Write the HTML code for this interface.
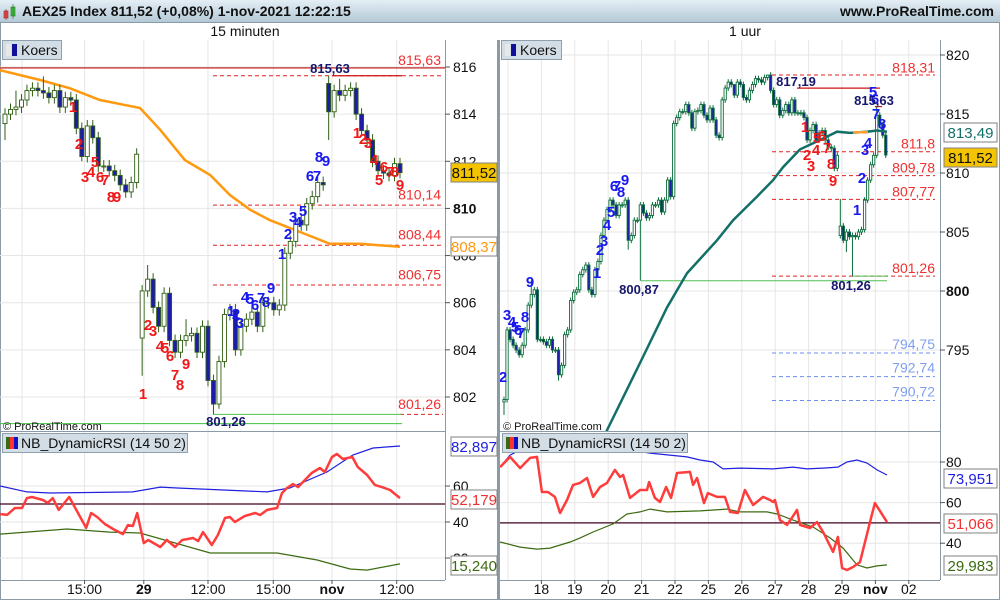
<!DOCTYPE html>
<html><head><meta charset="utf-8">
<style>
html,body{margin:0;padding:0;background:#fff;}
svg{display:block;font-family:"Liberation Sans",sans-serif;}
</style></head>
<body>
<svg id="chart" width="1000" height="600" viewBox="0 0 1000 600" xmlns="http://www.w3.org/2000/svg">
<defs>
<linearGradient id="tb" x1="0" y1="0" x2="0" y2="1"><stop offset="0" stop-color="#e4eef5"/><stop offset="1" stop-color="#b4c9d6"/></linearGradient>
<clipPath id="clipLP"><rect x="0" y="40" width="445" height="391"/></clipPath>
<clipPath id="clipRP"><rect x="500" y="40" width="440" height="391"/></clipPath>
<clipPath id="clipLR"><rect x="0" y="432" width="445" height="148"/></clipPath>
<clipPath id="clipRR"><rect x="500" y="432" width="440" height="148"/></clipPath>
</defs>
<rect x="0" y="0" width="1000" height="600" fill="#fff"/>
<rect x="0" y="0" width="1000" height="22" fill="url(#tb)"/>
<line x1="0" y1="22.5" x2="1000" y2="22.5" stroke="#7f98a8"/>
<g>
<rect x="4" y="11" width="4" height="7" fill="#e05050" stroke="#a02020" stroke-width="0.6"/>
<line x1="6" y1="9" x2="6" y2="20" stroke="#a02020" stroke-width="0.6"/>
<rect x="11" y="7" width="4" height="9" fill="#40c040" stroke="#207020" stroke-width="0.6"/>
<line x1="13" y1="4" x2="13" y2="19" stroke="#207020" stroke-width="0.6"/>
</g>
<text x="22" y="16" font-size="14" font-weight="bold" fill="#111">AEX25 Index 811,52 (+0,08%) 1-nov-2021 12:22:15</text>
<text x="994" y="16" font-size="14" font-weight="bold" fill="#111" text-anchor="end">www.ProRealTime.com</text>
<text x="245" y="36" font-size="14" fill="#111" text-anchor="middle">15 minuten</text>
<text x="745" y="36" font-size="14" fill="#111" text-anchor="middle">1 uur</text>
<rect x="0.5" y="22.5" width="999" height="577" fill="none" stroke="#8a9aa6"/>
<line x1="498.5" y1="40" x2="498.5" y2="600" stroke="#8a9aa6" stroke-width="3"/>
<g id="L"></g>
<g id="R"></g>
</svg>
<script>
// ---------- LEFT (15 min) data ----------
const lClose = [814.0,814.2,814.3,814.6,815.0,815.1,815.0,814.9,814.7,815.0,814.3,814.7,814.6,813.4,812.2,813.5,813.0,811.8,811.8,811.6,811.4,811.0,810.7,811.1,812.3,
806.5,807.0,805.8,805.0,806.4,804.4,803.9,804.4,804.6,804.7,803.9,805.0,802.7,801.7,803.5,805.5,805.7,804.0,805.0,805.3,805.6,805.0,806.0,806.0,805.7,805.9,808.1,808.6,809.5,809.3,810.2,810.5,811.1,811.0,
814.1,815.0,814.8,815.0,815.1,814.0,813.3,812.9,812.0,811.6,811.5,811.4,811.9,811.52];
const lGapOpen = {0:813.6, 25:804.5, 59:815.3};
const lHighOver = {26:807.6, 7:815.6, 2:815.0, 59:815.63, 61:815.5, 33:805.3};
const lLowOver = {0:812.9, 25:802.9, 38:801.26, 59:812.9, 39:801.5, 14:812.0};
const lMaBar = [-1,6.4,11.8,17.3,24.6,28.3,32.8,37.4,41,44.7,48.3,53.8,59.2,64.7,72];
const lMaVal = [815.87,815.45,815.1,814.6,814.26,813.33,812.05,811.42,810.57,809.94,809.5,809.0,808.5,808.5,808.37];
const lTicks = [816,814,812,810,808,806,804,802];
const lRsiBar = [-0.9,0.4,1.8,3.1,4,4.9,6.9,7.8,8.7,9.8,11.7,14.8,15.7,16.8,18.2,19.7,21.5,22.4,23.3,24.1,25.3,26.1,28.3,29.5,31,32.3,34.3,35.2,36.1,37.7,38.8,40.1,41,41.9,43.7,45.6,46.5,47.8,49.6,50.5,51.4,52.5,53.4,55,55.9,57.4,58.3,59.6,60.5,61.6,63.3,64.3,66,67.4,68.7,70.2,72];
const lRsiVal = [44.4,44,47.8,47.8,53.3,53.9,52.2,50.6,53.3,46.7,53.9,36.7,45,42.8,38.9,36.1,33.3,38.3,37.8,45,28.3,30,26.1,30,26.1,30,31.1,29.4,34.4,27.2,32.8,42.2,42.8,40,43.3,45,43.9,46.7,47.8,56.1,58.9,61.1,59.4,64.4,67.2,70,67.8,76.1,77.8,75,76.1,70.6,66.1,60.6,59.4,57.8,53.3];
const lUpBar = [-0.9,4,8.2,23.3,28.3,31.4,47.8,51.9,58.7,63.4,67.1,72];
const lUpVal = [60,56.7,56.1,56.7,59.4,58.9,56.7,58.9,67.8,77.2,81.1,82.2];
const lDnBar = [-0.9,11.3,19.1,24.6,37.4,49.6,56.9,62.9,66,72];
const lDnVal = [33.3,36.1,34.4,33.9,22.8,22.8,18.9,13.9,13.3,16.7];
const lTimeBar = [14.5,25.3,37,48.9,59.6,71.4];
const lTimeLbl = ["15:00","29","12:00","15:00","nov","12:00"];
const lTimeBold = [false,true,false,false,true,false];
const lGridBar = [3.1];

// ---------- RIGHT (1 uur) data ----------
const rClose = [790.8,796.7,795.9,795.4,795.0,794.6,795.4,796.7,798.8,799.7,800.1,
795.9,795.9,795.7,795.4,795.9,795.0,795.0,792.9,793.7,796.3,
796.7,799.2,799.9,800.1,801.4,801.8,802.2,800.1,799.7,801.8,
802.5,804.7,806.0,806.9,807.7,807.3,806.4,807.3,807.3,807.7,
804.3,804.7,806.0,806.0,807.3,806.6,806.2,806.4,807.3,807.3,
807.7,806.7,807.7,809.4,
808.0,814.2,814.7,815.2,815.2,815.8,815.1,813.8,815.2,815.3,
815.8,814.9,814.5,815.5,814.5,813.2,813.0,816.2,817.2,817.7,
817.5,816.6,817.7,817.5,816.4,816.2,817.0,817.5,818.0,817.9,
817.7,818.1,818.3,817.0,815.8,816.2,814.9,815.3,815.8,815.1,
816.2,815.1,815.1,815.1,814.7,812.8,813.6,814.1,812.8,813.4,
813.6,812.8,812.2,812.1,810.4,811.5,
805.5,804.3,805.0,804.6,804.7,804.6,805.0,805.2,807.7,809.4,810.7,811.5,
814.9,814.1,813.2,811.52];
const rGapOpen = {0:790.6, 111:804.7};
const rHighOver = {111:807.8, 87:818.31, 76:817.19, 123:815.63, 9:800.9};
const rLowOver = {0:789.5, 45:800.87, 115:801.26, 18:792.4, 41:803.5, 113:803.3};
const rMaBar = [32,34,44.9,53.8,60.4,70.3,75.6,83.5,88.8,92.1,97.7,104.3,109.9,114.2,119.8,123.1,126.4];
const rMaVal = [786.8,788.2,793.9,798.6,801.5,804.3,806.0,808.0,809.4,810.5,812.0,812.8,813.5,813.4,813.5,813.6,813.5];
const rTicks = [820,815,810,805,800,795];
const rRsiBar = [-1.3,2,5.3,8.6,10.9,12.5,14.5,16.8,18.5,20.8,22.8,25.1,27.4,29.4,31.7,34,36.6,38.3,39.3,41.6,44.9,47.2,47.9,49.8,51.5,53.5,55.1,57.1,61.4,62.4,63.7,66,67.3,70.3,72.9,74.6,77.2,79.5,82.2,85.5,87.8,88.8,89.4,91.1,93.4,95,96.7,97.7,101,103.3,105.3,108.6,110.2,111.6,113.2,115.2,117.5,120.8,122.4,126.4];
const rRsiVal = [77.5,82.5,77,82,82.5,65.2,65.2,62.8,54.9,61.3,68.7,69.7,72.1,62.8,67.7,69.7,76.1,72.6,73.6,62.3,66.2,66.2,70.1,62.3,60.3,67.7,62.3,74.6,75.1,68.7,72.1,59.8,64.7,62.8,62.8,55.4,54.9,66.2,58.8,62.8,61.3,60.3,61.3,51.4,49,52.4,56.4,49,47.5,50.4,45.5,35.7,43.1,27.8,26.8,28.3,30.7,50.4,59.8,50.4];
const rUpBar = [-1.3,2,5.3,11.9,31.7,48.2,60.4,64.7,69,72.3,77.9,88.8,95.4,100,105.3,110.2,113.2,116.5,119.8,123.1,126.4];
const rUpVal = [77.5,83.4,85.9,88.4,88.4,84.4,82.5,81,80,76.6,77,76.6,77.5,76.6,77,77.5,80,81,79.5,76.1,73.6];
const rDnBar = [-1.3,5.3,10.9,15.2,21.8,25.1,29.4,36,40.6,44.9,48.2,53.8,64.7,73.6,77.9,86.8,90.1,95.4,102,107.6,111.9,116.5,119.8,123.1,126.4];
const rDnVal = [40.6,38.1,37.1,37.6,40.6,42.6,45.5,49.5,54.4,55.4,56.8,55.4,55.9,56.8,55.4,55.4,54.4,51.4,48,42.6,37.6,29.3,27.8,28.8,29.3];
const rDayLbl = ["18","19","20","21","22","25","26","27","28","29","nov","02"];
const rDayBold = [false,false,false,false,false,false,false,false,false,false,true,false];

// ---------- axes ----------
const xL = i => 5 + i*5.486;
const yL = v => 67 + (816 - v)*23.57;
const yLr = v => 486 + (60 - v)*1.8;
const xR = i => 504 + i*3.03;
const yR = v => 55 + (820 - v)*11.8;
const yRr = v => 462 + (80 - v)*2.03;
const xRday = d => 508 + d*33.4;

const NS = "http://www.w3.org/2000/svg";
function mk(parent, tag, attrs, text){
  const e = document.createElementNS(NS, tag);
  for (const k in attrs) e.setAttribute(k, attrs[k]);
  if (text !== undefined) e.textContent = text;
  parent.appendChild(e); return e;
}
function poly(xs, ys, fx, fy){ return xs.map((b,i)=>fx(b).toFixed(1)+","+fy(ys[i]).toFixed(1)).join(" "); }

function candles(g, closes, gaps, hiO, loO, fx, fy, w, outline){
  closes.forEach((c,i)=>{
    const o = (gaps[i] !== undefined) ? gaps[i] : closes[i-1];
    const top = Math.max(o,c), bot = Math.min(o,c);
    const h = hiO[i] !== undefined ? hiO[i] : top + 0.25;
    const l = loO[i] !== undefined ? loO[i] : bot - 0.25;
    const x = fx(i);
    const ln = mk(g,"line",{x1:x,x2:x,y1:fy(h),y2:fy(l),stroke:outline,"stroke-width":1});
    
    
    const r = mk(g,"rect",{x:x-w/2,y:fy(top),width:w,height:Math.max(1,fy(bot)-fy(top)),fill:c>=o?"#ffffff":"#1c1ca8",stroke:outline,"stroke-width":0.9});
    
    
  });
}
function txt(g,x,y,s,attrs,name){
  const t = mk(g,"text",Object.assign({x:x,y:y,"font-size":13},attrs),s);
  
  
  return t;
}
function hline(g,x1,x2,y,col,dash,w){
  const l = mk(g,"line",{x1:x1,x2:x2,y1:y,y2:y,stroke:col,"stroke-width":w||1});
  if (dash) l.setAttribute("stroke-dasharray",dash);
  return l;
}
function valBox(g,x,y,w,s,fill,col,name){
  const r = mk(g,"rect",{x:x,y:y,width:w,height:19,fill:fill,stroke:"#808080","stroke-width":1});
  
  
  txt(g,x+w/2,y+15,s,{"font-size":15,fill:col,"text-anchor":"middle"},name);
}

// ================= LEFT PANEL =================
const L = document.getElementById("L");


const lgrid = mk(L,"g",{stroke:"#e6e6e6","stroke-width":1});


lTimeBar.concat(lGridBar).forEach(b=>{ mk(lgrid,"line",{x1:xL(b),x2:xL(b),y1:40,y2:580}); });
lTicks.forEach(v=>{ mk(lgrid,"line",{x1:0,x2:445,y1:yL(v),y2:yL(v)}); });
[60,40,20].forEach(v=>{ mk(lgrid,"line",{x1:0,x2:445,y1:yLr(v),y2:yLr(v)}); });

const lp = mk(L,"g",{"clip-path":"url(#clipLP)"});


hline(lp,0,445,yL(815.96),"#c01010",null,1.2);
hline(lp,213,443,yL(815.63),"#e02020","4,3");
hline(lp,332,402,yL(815.63),"#d01010",null,1.2);
hline(lp,213,443,yL(810.14),"#e02020","4,3");
hline(lp,213,443,yL(808.44),"#e02020","4,3");
hline(lp,213,443,yL(806.75),"#e02020","4,3");
hline(lp,400,443,yL(801.26),"#e02020","4,3");
hline(lp,213,402,yL(801.26),"#50c050",null,1);
hline(lp,0,402,yL(800.87),"#40c040",null,1);
const lma = mk(lp,"polyline",{points:poly(lMaBar,lMaVal,xL,yL),fill:"none",stroke:"#ff9a10","stroke-width":2.5});


const lcg = mk(lp,"g",{});


candles(lcg,lClose,lGapOpen,lHighOver,lLowOver,xL,yL,4,"#2f5f13");
const lred = [["1",73,112],["2",79,149],["3",85,182],["4",91,177],["5",95,167],["6",100,182],["7",105,185],["8",111,202],["9",117,202],
["1",143,399],["2",148,330],["3",153,336],["4",160,351],["5",165,353],["6",170,361],["7",175,380],["8",180,390],["9",186,369],
["1",357,138],["2",363,144],["3",368,148],["4",374,165],["5",379,185],["6",384,172],["7",390,177],["8",395,177],["9",400,190]];
const lblue = [["1",231,316],["2",236,319],["3",240,328],["4",245,302],["5",250,304],["6",255,310],["7",261,303],["8",266,307],["9",271,293],
["1",282,259],["2",288,239],["3",293,222],["4",298,227],["5",303,216],["6",310,181],["7",317,181],["8",319,162],["9",326,166]];
lred.forEach(a=>txt(lp,a[1],a[2],a[0],{"font-size":15,"font-weight":"bold",fill:"#f01818","text-anchor":"middle"},"sequence-count-red"));
lblue.forEach(a=>txt(lp,a[1],a[2],a[0],{"font-size":15,"font-weight":"bold",fill:"#1818f0","text-anchor":"middle"},"sequence-count-blue"));
txt(lp,330,73,"815,63",{"font-size":13,"font-weight":"bold",fill:"#16166e","text-anchor":"middle"},"high-label");
txt(lp,226,426,"801,26",{"font-size":13,"font-weight":"bold",fill:"#16166e","text-anchor":"middle"},"low-label");
[["815,63",816.3],["810,14",810.6],["808,44",808.9],["806,75",807.2],["801,26",801.7]].forEach(a=>
  txt(lp,441,yL(a[1])+5,a[0],{"font-size":14,fill:"#f03030","text-anchor":"end"},"level-label"));
txt(lp,3,430,"© ProRealTime.com",{"font-size":11,fill:"#111"},"copyright");
const lk = mk(L,"g",{});


mk(lk,"rect",{x:2.5,y:40.5,width:59,height:19,fill:"#d3dde5",stroke:"#8ea0ad"});
mk(lk,"rect",{x:6,y:44,width:5,height:12,fill:"#e8e8e8"});
mk(lk,"rect",{x:12,y:44,width:5,height:12,fill:"#10109a"});
txt(lk,21,55,"Koers",{"font-size":14,fill:"#111"},"koers-legend-text");
mk(L,"line",{x1:445.5,x2:445.5,y1:40,y2:580,stroke:"#8a9aa6"});
lTicks.forEach(v=>{
  mk(L,"line",{x1:445,x2:450,y1:yL(v),y2:yL(v),stroke:"#555"});
  txt(L,453,yL(v)+5,String(v),{"font-size":14,fill:"#111","font-weight":v===810?"bold":"normal"},"y-tick-label");
});
valBox(L,451,163,46,"811,52","#f5c400","#111","last-price");
valBox(L,451,237,46,"808,37","#ffffff","#ff9a10","ma-value");

mk(L,"line",{x1:0,x2:445,y1:431.5,y2:431.5,stroke:"#8a9aa6"});
const lr = mk(L,"g",{"clip-path":"url(#clipLR)"});


hline(lr,0,445,yLr(50),"#400020",null,1.2);
const lu = mk(lr,"polyline",{points:poly(lUpBar,lUpVal,xL,yLr),fill:"none",stroke:"#2020e0","stroke-width":1.2});


const ld = mk(lr,"polyline",{points:poly(lDnBar,lDnVal,xL,yLr),fill:"none",stroke:"#3c6a10","stroke-width":1.2});


const lrs = mk(lr,"polyline",{points:poly(lRsiBar,lRsiVal,xL,yLr),fill:"none",stroke:"#ff3c3c","stroke-width":2.5,"stroke-linejoin":"round"});


[60,40,20].forEach(v=>{
  mk(L,"line",{x1:445,x2:450,y1:yLr(v),y2:yLr(v),stroke:"#555"});
  txt(L,453,yLr(v)+5,String(v),{"font-size":14,fill:"#111"},"rsi-tick-label");
});
valBox(L,451,437,46,"82,897","#ffffff","#2020e0","rsi-upper-value");
valBox(L,451,490,46,"52,179","#ffffff","#f03030","rsi-value");
valBox(L,451,556,46,"15,240","#ffffff","#3c6a10","rsi-lower-value");
const lrl = mk(L,"g",{});


mk(lrl,"rect",{x:2.5,y:433.5,width:185,height:19,fill:"#d3dde5",stroke:"#8ea0ad"});
mk(lrl,"rect",{x:6,y:437,width:4,height:12,fill:"#3c6a10"});
mk(lrl,"rect",{x:10,y:437,width:4,height:12,fill:"#ff3030"});
mk(lrl,"rect",{x:14,y:437,width:4,height:12,fill:"#1010c0"});
txt(lrl,21,448,"NB_DynamicRSI (14 50 2)",{"font-size":14,fill:"#111"},"rsi-legend-text");
mk(L,"line",{x1:0,x2:445,y1:580.5,y2:580.5,stroke:"#8a9aa6"});
lTimeBar.forEach((b,i)=>{
  mk(L,"line",{x1:xL(b),x2:xL(b),y1:580,y2:584,stroke:"#555"});
  txt(L,xL(b),594,lTimeLbl[i],{"font-size":14,fill:"#111","text-anchor":"middle","font-weight":lTimeBold[i]?"bold":"normal"},"x-tick-label");
});

// ================= RIGHT PANEL =================
const R = document.getElementById("R");


const rgrid = mk(R,"g",{stroke:"#e6e6e6","stroke-width":1});


for (let d=0; d<=12; d++) mk(rgrid,"line",{x1:xRday(d),x2:xRday(d),y1:40,y2:580});
rTicks.forEach(v=>{ mk(rgrid,"line",{x1:500,x2:940,y1:yR(v),y2:yR(v)}); });
[80,60,40].forEach(v=>{ mk(rgrid,"line",{x1:500,x2:940,y1:yRr(v),y2:yRr(v)}); });

const rp = mk(R,"g",{"clip-path":"url(#clipRP)"});


hline(rp,772,935,yR(818.31),"#e02020","4,3");
hline(rp,797,880,yR(817.19),"#d01010",null,1.2);
hline(rp,875,882,yR(815.63),"#d01010",null,1.2);
[811.8,809.78,807.77,801.26].forEach(v=>hline(rp,772,935,yR(v),"#e02020","4,3"));
[794.75,792.74,790.72].forEach(v=>hline(rp,772,935,yR(v),"#6f8ff0","4,3"));
hline(rp,853,887,yR(801.26),"#50c050",null,1);
hline(rp,641,887,yR(800.87),"#50c050",null,1);
const rcg = mk(rp,"g",{});


candles(rcg,rClose,rGapOpen,rHighOver,rLowOver,xR,yR,2.3,"#0d6e3c");
const rma = mk(rp,"polyline",{points:poly(rMaBar,rMaVal,xR,yR),fill:"none",stroke:"#137068","stroke-width":2.5});


hline(rp,853,868,yR(813.45),"#ffa030",null,2.5);
const rred = [["1",805,132],["2",807,160],["3",811,171],["4",816,155],["5",817,143],["6",822,141],["7",827,153],["8",831,169],["9",833,186]];
const rblue = [["2",503,382],["3",507,320],["4",512,327],["5",515,332],["6",518,335],["7",521,338],["8",525,322],["9",530,287],
["1",597,278],["2",600,255],["3",604,246],["4",607,230],["5",611,217],["6",614,191],["7",617,191],["8",621,197],["9",625,185],
["1",857,215],["2",862,183],["3",865,155],["4",868,148],["5",873,97],["6",875,104],["7",876,119],["8",882,129]];
rred.forEach(a=>txt(rp,a[1],a[2],a[0],{"font-size":15,"font-weight":"bold",fill:"#f01818","text-anchor":"middle"},"sequence-count-red"));
rblue.forEach(a=>txt(rp,a[1],a[2],a[0],{"font-size":15,"font-weight":"bold",fill:"#1818f0","text-anchor":"middle"},"sequence-count-blue"));
txt(rp,796,86,"817,19",{"font-size":13,"font-weight":"bold",fill:"#16166e","text-anchor":"middle"},"high-label");
txt(rp,874,105,"815,63",{"font-size":13,"font-weight":"bold",fill:"#16166e","text-anchor":"middle"},"high-label");
txt(rp,639,294,"800,87",{"font-size":13,"font-weight":"bold",fill:"#16166e","text-anchor":"middle"},"low-label");
txt(rp,851,290,"801,26",{"font-size":13,"font-weight":"bold",fill:"#16166e","text-anchor":"middle"},"low-label");
[["818,31",818.95],["811,8",812.5],["809,78",810.45],["807,77",808.45],["801,26",801.95]].forEach(a=>
  txt(rp,935,yR(a[1])+5,a[0],{"font-size":14,fill:"#f03030","text-anchor":"end"},"level-label"));
[["794,75",795.5],["792,74",793.5],["790,72",791.5]].forEach(a=>
  txt(rp,935,yR(a[1])+5,a[0],{"font-size":14,fill:"#7f9ff0","text-anchor":"end"},"level-label"));
txt(rp,503,430,"© ProRealTime.com",{"font-size":11,fill:"#111"},"copyright");
const rk = mk(R,"g",{});


mk(rk,"rect",{x:501.5,y:40.5,width:60,height:19,fill:"#d3dde5",stroke:"#8ea0ad"});
mk(rk,"rect",{x:505,y:44,width:5,height:12,fill:"#e8e8e8"});
mk(rk,"rect",{x:511,y:44,width:5,height:12,fill:"#10109a"});
txt(rk,520,55,"Koers",{"font-size":14,fill:"#111"},"koers-legend-text");
mk(R,"line",{x1:940.5,x2:940.5,y1:40,y2:580,stroke:"#8a9aa6"});
rTicks.forEach(v=>{
  mk(R,"line",{x1:940,x2:945,y1:yR(v),y2:yR(v),stroke:"#555"});
  txt(R,946,yR(v)+5,String(v),{"font-size":14,fill:"#111","font-weight":v===800?"bold":"normal"},"y-tick-label");
});
valBox(R,944,123,53,"813,49","#ffffff","#137068","ma-value");
valBox(R,944,148,53,"811,52","#f5c400","#111","last-price");

mk(R,"line",{x1:500,x2:940,y1:431.5,y2:431.5,stroke:"#8a9aa6"});
const rr = mk(R,"g",{"clip-path":"url(#clipRR)"});


hline(rr,500,940,yRr(50),"#400020",null,1.2);
const ru = mk(rr,"polyline",{points:poly(rUpBar,rUpVal,xR,yRr),fill:"none",stroke:"#2020e0","stroke-width":1.2});


const rd = mk(rr,"polyline",{points:poly(rDnBar,rDnVal,xR,yRr),fill:"none",stroke:"#3c6a10","stroke-width":1.2});


const rrs = mk(rr,"polyline",{points:poly(rRsiBar,rRsiVal,xR,yRr),fill:"none",stroke:"#ff3c3c","stroke-width":2.5,"stroke-linejoin":"round"});


[80,60,40].forEach(v=>{
  mk(R,"line",{x1:940,x2:945,y1:yRr(v),y2:yRr(v),stroke:"#555"});
  txt(R,946,yRr(v)+5,String(v),{"font-size":14,fill:"#111"},"rsi-tick-label");
});
valBox(R,944,469,53,"73,951","#ffffff","#2020e0","rsi-upper-value");
valBox(R,944,514,53,"51,066","#ffffff","#f03030","rsi-value");
valBox(R,944,556,53,"29,983","#ffffff","#3c6a10","rsi-lower-value");
const rrl = mk(R,"g",{});


mk(rrl,"rect",{x:502.5,y:433.5,width:185,height:19,fill:"#d3dde5",stroke:"#8ea0ad"});
mk(rrl,"rect",{x:506,y:437,width:4,height:12,fill:"#3c6a10"});
mk(rrl,"rect",{x:510,y:437,width:4,height:12,fill:"#ff3030"});
mk(rrl,"rect",{x:514,y:437,width:4,height:12,fill:"#1010c0"});
txt(rrl,521,448,"NB_DynamicRSI (14 50 2)",{"font-size":14,fill:"#111"},"rsi-legend-text");
mk(R,"line",{x1:500,x2:940,y1:580.5,y2:580.5,stroke:"#8a9aa6"});
rDayLbl.forEach((s,i)=>{
  const x = xRday(i+1);
  mk(R,"line",{x1:x,x2:x,y1:580,y2:584,stroke:"#555"});
  txt(R,x,594,s,{"font-size":14,fill:"#111","text-anchor":"middle","font-weight":rDayBold[i]?"bold":"normal"},"x-tick-label");
});
</script>
</body></html>
